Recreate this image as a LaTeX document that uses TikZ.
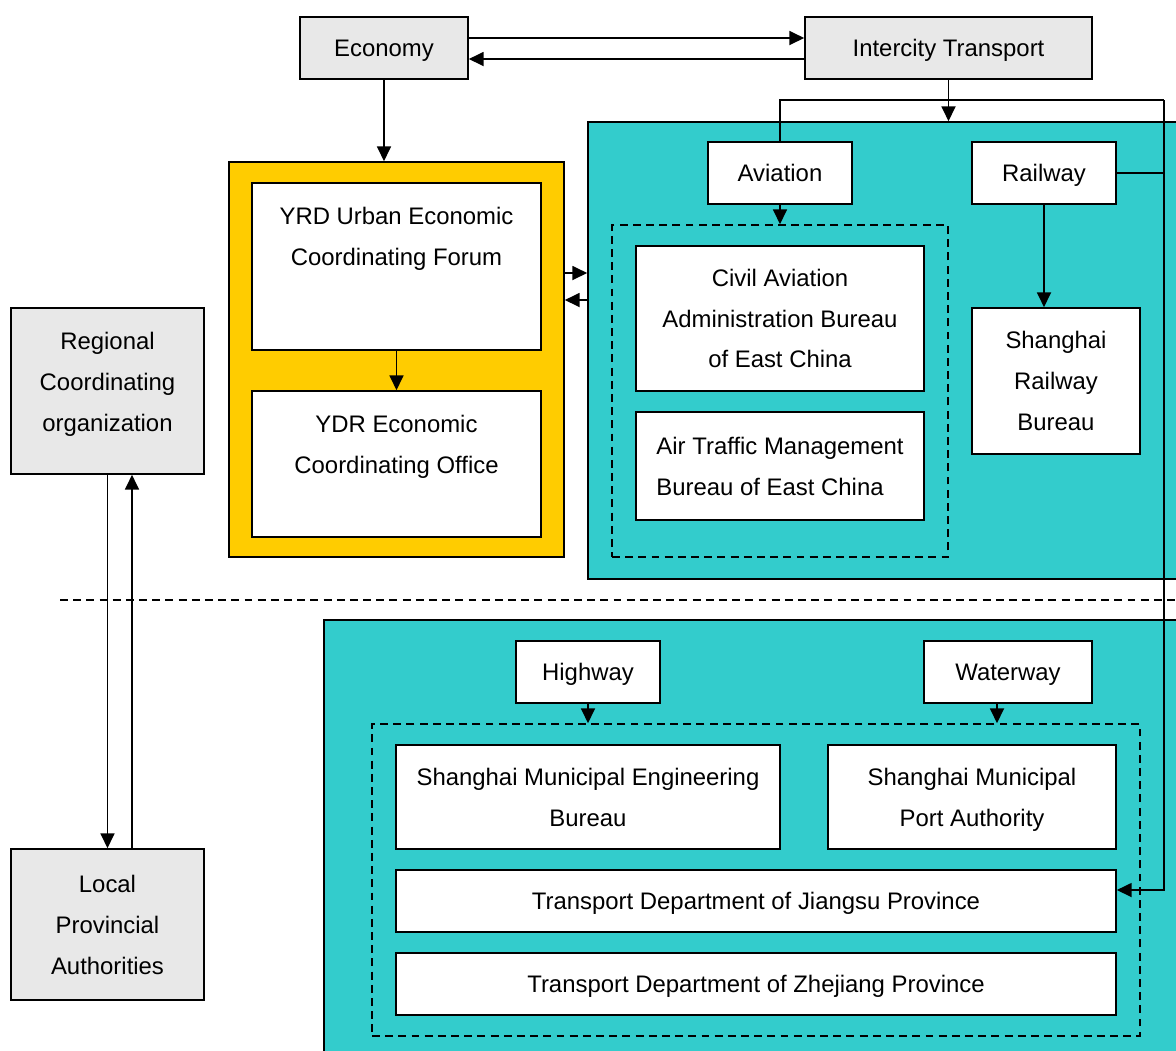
\documentclass[tikz,border=0pt]{standalone}
\usepackage{fontspec}
\setmainfont{Liberation Sans}
\usetikzlibrary{positioning, arrows.meta}
\definecolor{boxgrey}{HTML}{E8E8E8}
\definecolor{forumyellow}{HTML}{FFCC00}
\definecolor{transteal}{HTML}{33CCCC}

\begin{document}
\begin{tikzpicture}[
    line width=0.9pt,
    >={Triangle[length=8.5pt, width=8pt]},
    every node/.style={font=\fontsize{13.6}{23.3}\selectfont, align=center},
    box/.style={draw, inner sep=0pt},
    greybox/.style={box, fill=boxgrey},
    whitebox/.style={box, fill=white},
    oneline/.style={text height=12.3pt, text depth=2.9pt},
    groupbox/.style={draw, dashed, dash pattern=on 4.5pt off 3pt, inner sep=0pt}
]
    \useasboundingbox (0,0) rectangle (23.52,-21);

    % top row
    \node [greybox, oneline, minimum width=3.36cm, minimum height=1.24cm] (eco) at (7.68, -0.96) {Economy};
    \node [greybox, oneline, minimum width=5.74cm, minimum height=1.24cm] (inter) at (18.97, -0.96) {Intercity Transport};

    % forum
    \node [box, fill=forumyellow, minimum width=6.70cm, minimum height=7.90cm] (yrd) at (7.93, -7.19) {};
    \node [whitebox, minimum width=5.78cm, minimum height=3.34cm] (forum) at (7.93, -5.33) {};
    \node (forumtxt) at (7.93, -4.77) {YRD Urban Economic\\Coordinating Forum};
    \node [whitebox, minimum width=5.78cm, minimum height=2.92cm] (office) at (7.93, -9.28) {};
    \node (officetxt) at (7.93, -8.93) {YDR Economic\\Coordinating Office};

    % aviation and railway
    \node [box, fill=transteal, minimum width=12.24cm, minimum height=9.14cm] (air) at (17.88, -7.01) {};
    \node [whitebox, oneline, minimum width=2.88cm, minimum height=1.24cm] (avi) at (15.60, -3.46) {Aviation};
    \node [whitebox, oneline, minimum width=2.88cm, minimum height=1.24cm] (rail) at (20.88, -3.46) {Railway};
    \node [groupbox, minimum width=6.72cm, minimum height=6.64cm] (avigroup) at (15.60, -7.82) {};
    \node [whitebox, minimum width=5.76cm, minimum height=2.90cm] (caab) at (15.60, -6.37) {Civil Aviation\\Administration Bureau\\of East China};
    \node [whitebox, align=left, minimum width=5.76cm, minimum height=2.16cm] (atmb) at (15.60, -9.32) {Air Traffic Management\\Bureau of East China};
    \node [whitebox, minimum width=3.36cm, minimum height=2.92cm] (srb) at (21.12, -7.62) {Shanghai\\Railway\\Bureau};

    % left side
    \node [greybox, minimum width=3.86cm, minimum height=3.32cm] (rco) at (2.15, -7.82) {};
    \node (rcotxt) at (2.15, -7.68) {Regional\\Coordinating\\organization};
    \node [greybox, minimum width=3.86cm, minimum height=3.02cm] (lpa) at (2.15, -18.49) {Local\\Provincial\\Authorities};

    \draw [dashed, dash pattern=on 4.5pt off 3pt] (1.2, -12) -- (23.52, -12);

    % highway and waterway
    \node [box, fill=transteal, minimum width=17.52cm, minimum height=8.80cm] (road) at (15.24, -16.80) {};
    \node [whitebox, oneline, minimum width=2.88cm, minimum height=1.24cm] (hw) at (11.76, -13.44) {Highway};
    \node [whitebox, oneline, minimum width=3.36cm, minimum height=1.24cm] (ww) at (20.16, -13.44) {Waterway};
    \node [groupbox, minimum width=15.36cm, minimum height=6.24cm] (roadgroup) at (15.12, -17.60) {};
    \node [whitebox, minimum width=7.68cm, minimum height=2.08cm] (smeb) at (11.76, -15.94) {Shanghai Municipal Engineering\\Bureau};
    \node [whitebox, text depth=0pt, minimum width=5.76cm, minimum height=2.08cm] (smpa) at (19.44, -15.94) {Shanghai Municipal\\Port Authority};
    \node [whitebox, oneline, minimum width=14.40cm, minimum height=1.24cm] (tdj) at (15.12, -18.02) {Transport Department of Jiangsu Province};
    \node [whitebox, oneline, minimum width=14.40cm, minimum height=1.24cm] (tdz) at (15.12, -19.68) {Transport Department of Zhejiang Province};

    \coordinate (split) at (23.28, -2.00);

    \draw [->] (eco.east |- 0,-0.76) -- (inter.west |- 0,-0.76);
    \draw [->] (inter.west |- 0,-1.18) -- (eco.east |- 0,-1.18);
    \draw [->] (eco.south) -- (eco.south |- yrd.north);
    \draw [->] (forum.south) -- (office.north);
    \draw [->] (yrd.east |- 0,-5.46) -- (air.west |- 0,-5.46);
    \draw [->] (air.west |- 0,-6.00) -- (yrd.east |- 0,-6.00);
    \draw [->] (inter.south) -- (inter.south |- air.north);
    \draw (avi.north) |- (split);
    \draw [->] (split) |- ([yshift=0.22cm]tdj.east);
    \draw (rail.east) -- (rail.east -| split);
    \draw [->] (avi.south) -- (avigroup.north);
    \draw [->] (rail.south) -- (rail.south |- srb.north);
    \draw [->] (hw.south) -- (hw.south |- roadgroup.north);
    \draw [->] ([xshift=-0.22cm]ww.south) -- ([xshift=-0.22cm]ww.south |- roadgroup.north);
    \draw [->] (rco.south) -- (lpa.north);
    \draw [->] ([xshift=0.49cm]lpa.north) -- ([xshift=0.49cm]rco.south);
\end{tikzpicture}
\end{document}
